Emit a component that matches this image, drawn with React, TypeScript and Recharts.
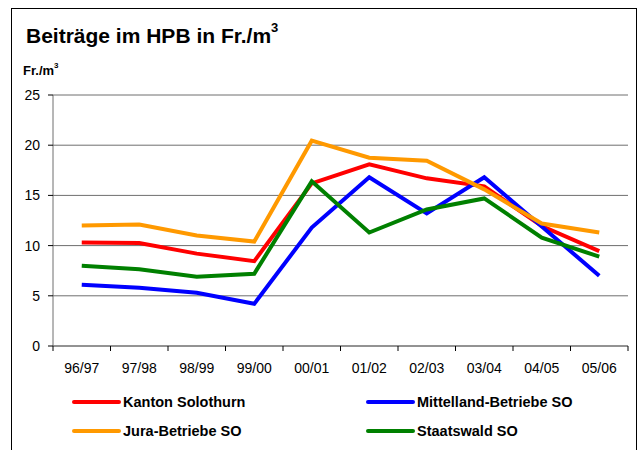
import { LineChart, Line, XAxis, YAxis, CartesianGrid } from "recharts";

// ---- data ----
const years = ["96/97", "97/98", "98/99", "99/00", "00/01", "01/02", "02/03", "03/04", "04/05", "05/06"];
const kanton = [10.3, 10.25, 9.2, 8.45, 16.2, 18.1, 16.7, 15.9, 11.95, 9.45];
const mittelland = [6.1, 5.8, 5.3, 4.2, 11.8, 16.8, 13.2, 16.8, 11.9, 7.0];
const jura = [12.0, 12.1, 11.0, 10.4, 20.45, 18.75, 18.45, 15.6, 12.2, 11.3];
const staatswald = [8.0, 7.65, 6.9, 7.2, 16.4, 11.3, 13.6, 14.7, 10.8, 8.9];
const yTicks = [0, 5, 10, 15, 20, 25];

const series = [
  { key: "kanton", name: "Kanton Solothurn", color: "#ff0000" },
  { key: "mittelland", name: "Mittelland-Betriebe SO", color: "#0000ff" },
  { key: "staatswald", name: "Staatswald SO", color: "#008000" },
  { key: "jura", name: "Jura-Betriebe SO", color: "#ff9900" },
];

// legend order (row by row)
const legendItems = [
  { name: "Kanton Solothurn", color: "#ff0000" },
  { name: "Mittelland-Betriebe SO", color: "#0000ff" },
  { name: "Jura-Betriebe SO", color: "#ff9900" },
  { name: "Staatswald SO", color: "#008000" },
];

// x is the slot centre, so tick marks can sit on the category borders
const data = years.map((y, i) => ({
  x: i + 0.5,
  year: y,
  kanton: kanton[i],
  mittelland: mittelland[i],
  jura: jura[i],
  staatswald: staatswald[i],
}));

const FONT = "'Liberation Sans', Arial, sans-serif";
const PLOT_LEFT = 53;
const PLOT_RIGHT = 628;
const PLOT_TOP = 95;
const PLOT_BOTTOM = 346;
const X_AXIS_H = 30;
const SLOT = (PLOT_RIGHT - PLOT_LEFT) / years.length;

function XTick({ x, payload }: any) {
  const v = payload.value as number;
  return (
    <g>
      <line x1={x} y1={PLOT_BOTTOM} x2={x} y2={PLOT_BOTTOM + 5} stroke="#000" strokeWidth={1} />
      {v < years.length && (
        <text x={x + SLOT / 2} y={PLOT_BOTTOM + 27} textAnchor="middle" fontSize={14} fill="#000" fontFamily={FONT}>
          {years[v]}
        </text>
      )}
    </g>
  );
}

export default function App() {
  return (
    <div style={{ position: "absolute", left: 0, top: 0, width: 643, height: 450, background: "#fff", overflow: "hidden", fontFamily: FONT }}>
      <div style={{ position: "absolute", left: 11, top: 8, width: 626, height: 460, border: "1px solid #000", boxSizing: "border-box" }} />
      <div style={{ position: "absolute", left: 26, top: 24, fontSize: 21, fontWeight: "bold", color: "#000", whiteSpace: "nowrap" }}>
        Beiträge im HPB in Fr./m<sup style={{ fontSize: 13, verticalAlign: "top", position: "relative", top: -4 }}>3</sup>
      </div>
      <div style={{ position: "absolute", left: 23, top: 63, fontSize: 13, fontWeight: "bold", color: "#000", whiteSpace: "nowrap" }}>
        Fr./m<sup style={{ fontSize: 8, verticalAlign: "top", position: "relative", top: -2 }}>3</sup>
      </div>
      <div style={{ position: "absolute", left: 0, top: 0 }}>
        <LineChart
          width={643}
          height={450}
          data={data}
          margin={{ top: PLOT_TOP, right: 643 - PLOT_RIGHT, bottom: 450 - PLOT_BOTTOM - X_AXIS_H, left: 0 }}
        >
          <CartesianGrid vertical={false} stroke="#6e6e6e" strokeWidth={1} />
          <XAxis
            type="number"
            dataKey="x"
            domain={[0, years.length]}
            ticks={years.map((_, i) => i).concat([years.length])}
            interval={0}
            tick={<XTick />}
            tickLine={false}
            axisLine={{ stroke: "#6e6e6e" }}
            height={X_AXIS_H}
          />
          <YAxis
            domain={[0, 25]}
            ticks={yTicks}
            interval={0}
            width={PLOT_LEFT}
            axisLine={{ stroke: "#6e6e6e" }}
            tickLine={{ stroke: "#000" }}
            tickSize={5}
            tick={{ fill: "#000", fontSize: 14, fontFamily: FONT, dx: -6 }}
          />
          {series.map((s) => (
            <Line
              key={s.key}
              type="linear"
              dataKey={s.key}
              name={s.name}
              stroke={s.color}
              strokeWidth={4}
              dot={false}
              activeDot={false}
              isAnimationActive={false}
            />
          ))}
        </LineChart>
      </div>
      {legendItems.map((item, i) => {
        const col = i % 2;
        const row = Math.floor(i / 2);
        const left = col === 0 ? 72 : 366;
        const top = row === 0 ? 394 : 423;
        return (
          <div key={item.name} style={{ position: "absolute", left, top, display: "flex", alignItems: "center", whiteSpace: "nowrap" }}>
            <div style={{ width: 49, height: 4, background: item.color, borderRadius: 2 }} />
            <span style={{ marginLeft: 2, fontSize: 14.5, fontWeight: "bold", color: "#000" }}>{item.name}</span>
          </div>
        );
      })}
    </div>
  );
}
